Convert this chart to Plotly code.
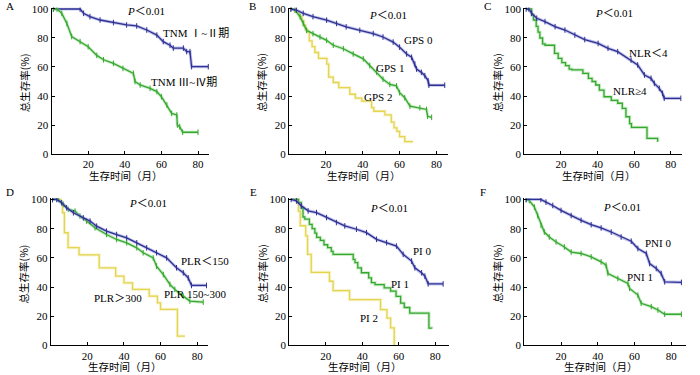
import plotly.graph_objects as go

# ---------------- data (months, overall survival %) ----------------
# A: TNM stage
A_I_II_t = [1, 15.6, 17.5, 21, 26.5, 33.8, 41, 46.5, 52, 57.5, 61, 64.7, 66.5, 72, 73.8, 75.6, 76.5, 85.6]
A_I_II_s = [100, 100, 97, 94.7, 92.4, 90.6, 89, 88.3, 85.5, 82, 77.5, 75, 73, 73, 70.6, 70.6, 60.2, 60.2]
A_III_IV_t = [1, 3, 5.6, 8.4, 11, 15.6, 20, 24.7, 28.4, 33.8, 39, 44.7, 45.6, 48.4, 53.8, 57.5, 60, 63, 65.6, 68.4, 68.7, 70, 71.6, 80]
A_III_IV_s = [100, 100, 97, 90, 81, 77.5, 74, 68, 65, 62.5, 59, 55.6, 50, 47.6, 45.3, 43, 39.5, 33.8, 28, 26.9, 20, 18.9, 15, 15]

# B: GPS
B_GPS0_t = [1, 4, 7.7, 13, 20.4, 25.8, 31, 38.4, 45.7, 51, 56.5, 60, 63.8, 66.5, 68.3, 69.2, 71.8, 73.7, 75.5, 75.9, 84.5]
B_GPS0_s = [100, 99.3, 97, 94.7, 92.3, 90, 87.7, 85.3, 83, 80.7, 77.2, 73.7, 69, 66.7, 62, 58.6, 56.3, 54, 50.5, 47.4, 47.4]
B_GPS1_t = [1, 3.2, 6, 7.7, 9.5, 13, 16.8, 20.4, 24, 29.5, 34.8, 40.3, 43.8, 47.5, 51, 54.7, 58.3, 60, 62.8, 65.6, 71, 74.6, 75.2, 77.4]
B_GPS1_s = [100, 99.3, 94.7, 90, 85.3, 83, 80.7, 78.4, 75, 72.6, 69, 65.6, 61, 56.5, 51.6, 48, 47, 42.3, 38.8, 33, 31.9, 30.7, 26, 25.3]
B_GPS2_t = [1, 3.5, 5.5, 7, 8, 9, 10, 11, 12.5, 14, 16, 20.5, 21.5, 24, 27, 33, 36, 39.5, 44.8, 46, 52, 55.5, 57, 58.5, 60, 62.8, 67.3]
B_GPS2_s = [100, 98, 95, 92, 88.8, 86, 84, 78, 74, 70, 66, 62, 53, 49.3, 45.8, 41.2, 38.5, 36.5, 32, 29.5, 27, 22, 18, 15.6, 12, 8.6, 8.6]

# C: NLR
C_NLR_lt4_t = [1, 2.5, 4, 6.8, 11.3, 16.8, 22.2, 27.6, 33, 40.3, 45.7, 51, 58.3, 61.9, 65.6, 69.2, 71, 73.7, 75.5, 76.4, 85.5]
C_NLR_lt4_s = [100, 100, 97, 93.6, 91.3, 87.8, 85.5, 82, 78.9, 76.3, 72.9, 70.6, 64.8, 61.4, 54.5, 52.2, 48.7, 45.3, 41.8, 38.4, 38.4]
C_NLR_ge4_t = [1, 4, 5, 6.5, 7.5, 8.5, 10, 11.3, 16.5, 18.5, 20.5, 22.5, 24.5, 26, 32, 35, 37, 39, 41, 43.5, 47.5, 51, 53.5, 55.5, 57.5, 58.5, 67, 72.8]
C_NLR_ge4_s = [100, 96, 92.4, 88, 84, 80, 76, 75, 69.4, 66, 63, 61, 58.5, 58, 55.6, 52.2, 50, 47.6, 44.1, 39.5, 37, 35, 31.5, 25.7, 21, 18.4, 10.8, 8.5]

# D: PLR
D_PLR_lt150_t = [1, 3.3, 6, 8.7, 12.4, 17.8, 21.5, 25.1, 30.5, 36, 41.5, 47, 52.4, 57.8, 63.3, 68.7, 72.4, 75.1, 76.9, 85.1]
D_PLR_lt150_s = [100, 100, 97.7, 94.3, 90.9, 87.4, 85.2, 81.7, 78.3, 76, 73.7, 70.3, 66.9, 63.5, 60, 53.2, 49.8, 46.3, 41.1, 41.1]
D_PLR_mid_t = [1, 4.2, 6.9, 9.6, 13.3, 16, 19.6, 24.2, 30.5, 36, 41.5, 47, 50.5, 56, 57.8, 61.5, 65.1, 67.8, 72.4, 76, 83.3]
D_PLR_mid_s = [100, 100, 96.6, 93.2, 92, 88.6, 85.2, 80.6, 76, 72.6, 70.3, 66.9, 63.5, 60, 54.3, 48.6, 41.8, 38.4, 33.8, 30.4, 29.7]
D_PLR_gt300_t = [1, 5.5, 6.5, 7.5, 9.5, 15.5, 26.5, 35.5, 40, 44.7, 53.8, 58.3, 60, 69.2, 73.3]
D_PLR_gt300_s = [100, 97.7, 90.9, 77.2, 67, 62, 53.2, 47.5, 42.9, 38.4, 33.8, 29.2, 24.7, 6.4, 6.4]

# E: PI
E_PI0_t = [1, 3.9, 6.6, 10.3, 14.9, 20.4, 25.8, 30.4, 36.8, 42.3, 47.8, 53.3, 58.7, 62.4, 67, 68.8, 72.5, 74.3, 76.1, 84.3]
E_PI0_s = [100, 99, 95.6, 92.2, 91, 87.6, 84.2, 81.9, 79.6, 77.3, 72.7, 70.4, 68.1, 62.4, 57.8, 53.2, 49.8, 47.5, 42.2, 42.2]
E_PI1_t = [1, 5, 6.5, 7.5, 8.5, 11, 12.5, 14, 15, 17, 19, 21, 23, 24, 35, 36, 37.5, 39.5, 43.5, 45, 47, 52, 55.5, 58.5, 61, 63, 66, 76.5, 78]
E_PI1_s = [100, 98, 94, 88, 86.5, 83, 80, 77, 74, 72, 69, 67, 64.5, 62.4, 59, 56.7, 53.2, 49.8, 46.3, 43, 41.7, 39.4, 37.2, 33.7, 29, 26, 22.2, 11.9, 11.5]
E_PI2_t = [1, 5, 6, 9, 10, 12, 22, 24, 33, 50, 53.5, 55.5, 57.5]
E_PI2_s = [100, 92, 82, 75, 62.4, 50, 44, 37.6, 31.4, 24.5, 18.8, 12, 0]

# F: PNI
F_PNI0_t = [1, 9, 11.8, 15.5, 20, 25.5, 30.9, 36.4, 41.8, 47.3, 52.7, 58.2, 61.8, 66.4, 68.2, 71.8, 74.5, 76.4, 85.5]
F_PNI0_s = [100, 100, 98.2, 95.9, 92.5, 89, 85.7, 82.7, 80.5, 77.7, 74.3, 71.4, 66.4, 63, 56.1, 52.7, 49.3, 43.6, 43.2]
F_PNI1_t = [1, 2.7, 5.5, 7.3, 9.1, 10.9, 13.6, 17.3, 21.8, 25.5, 30.9, 36.4, 41.8, 44.5, 45.5, 50.9, 56.4, 57.3, 61.8, 63.6, 69.1, 72.7, 76.4, 85.5]
F_PNI1_s = [100, 99.3, 94.8, 89, 82.3, 77.7, 74.3, 70.9, 67.5, 64, 63, 60.7, 57.3, 55, 49.3, 45.9, 42.5, 39.1, 34.5, 28.9, 26.6, 24.3, 21.4, 21.4]

y_ticks = [0, 20, 40, 60, 80, 100]
x_ticks = [20, 40, 60, 80]
panel_letters = ["A", "B", "C", "D", "E", "F"]
p_text = "<i>P</i>＜0.01"
y_title = "总生存率(%)"
x_title = "生存时间（月）"

# ---------------- styling ----------------
BLUE = "#2f3192"
BLUE_H = "rgba(120,125,210,0.45)"
GREEN = "#35a830"
GREEN_H = "rgba(140,210,130,0.45)"
YELLOW = "#e4d44e"
YELLOW_H = "rgba(240,230,150,0.45)"

SERIF = "Liberation Serif, Noto Sans CJK SC, serif"
CJK = "Noto Sans CJK SC, sans-serif"

fig = go.Figure()

# panel geometry (paper fractions)
x_domains = [[0.0736, 0.2986], [0.4129, 0.6393], [0.749, 0.974],
             [0.0724, 0.2974], [0.4133, 0.6414], [0.749, 0.980]]
x_max = [86, 86, 86, 86, 87.5, 88]
row1 = [0.5893, 0.9799]
row2 = [0.0787, 0.4720]
y_domains = [row1, row1, row1, row2, row2, row2]


def add_curve(i, t, s, color, halo, shape, ticks=True):
    ax = "" if i == 0 else str(i + 1)
    fig.add_trace(go.Scatter(
        x=t, y=s, mode="lines", line=dict(color=halo, width=3.2, shape=shape),
        xaxis="x" + ax, yaxis="y" + ax, showlegend=False, hoverinfo="skip"))
    fig.add_trace(go.Scatter(
        x=t, y=s, mode="lines+markers" if ticks else "lines",
        line=dict(color=color, width=1.3, shape=shape),
        marker=dict(symbol="line-ns", size=4, line=dict(color=color, width=1)),
        xaxis="x" + ax, yaxis="y" + ax, showlegend=False, hoverinfo="skip"))


add_curve(0, A_I_II_t, A_I_II_s, BLUE, BLUE_H, "linear")
add_curve(0, A_III_IV_t, A_III_IV_s, GREEN, GREEN_H, "linear")
add_curve(1, B_GPS2_t, B_GPS2_s, YELLOW, YELLOW_H, "hv", ticks=False)
add_curve(1, B_GPS1_t, B_GPS1_s, GREEN, GREEN_H, "linear")
add_curve(1, B_GPS0_t, B_GPS0_s, BLUE, BLUE_H, "linear")
add_curve(2, C_NLR_ge4_t, C_NLR_ge4_s, GREEN, GREEN_H, "hv", ticks=False)
add_curve(2, C_NLR_lt4_t, C_NLR_lt4_s, BLUE, BLUE_H, "linear")
add_curve(3, D_PLR_gt300_t, D_PLR_gt300_s, YELLOW, YELLOW_H, "hv", ticks=False)
add_curve(3, D_PLR_mid_t, D_PLR_mid_s, GREEN, GREEN_H, "linear")
add_curve(3, D_PLR_lt150_t, D_PLR_lt150_s, BLUE, BLUE_H, "linear")
add_curve(4, E_PI2_t, E_PI2_s, YELLOW, YELLOW_H, "hv", ticks=False)
add_curve(4, E_PI1_t, E_PI1_s, GREEN, GREEN_H, "hv", ticks=False)
add_curve(4, E_PI0_t, E_PI0_s, BLUE, BLUE_H, "linear")
add_curve(5, F_PNI1_t, F_PNI1_s, GREEN, GREEN_H, "linear")
add_curve(5, F_PNI0_t, F_PNI0_s, BLUE, BLUE_H, "linear")

layout = dict(width=700, height=375, margin=dict(l=0, r=0, t=0, b=0),
              paper_bgcolor="white", plot_bgcolor="white", showlegend=False)

axis_common = dict(showgrid=False, zeroline=False, showline=True, linecolor="black",
                   linewidth=1, ticks="inside", ticklen=3, tickcolor="black",
                   automargin=False,
                   tickfont=dict(family=SERIF, size=11, color="black"))

for i in range(6):
    suf = "" if i == 0 else str(i + 1)
    layout["xaxis" + suf] = dict(axis_common, domain=x_domains[i], range=[0, x_max[i]],
                                 tickvals=x_ticks, anchor="y" + suf)
    layout["yaxis" + suf] = dict(axis_common, domain=y_domains[i], range=[0, 101],
                                 tickvals=y_ticks, anchor="x" + suf)

fig.update_layout(**layout)

ann = []


def txt(x, y, text, size=11, family=SERIF, angle=0):
    ann.append(dict(x=x / 700, y=1 - y / 375, xref="paper", yref="paper", text=text,
                    showarrow=False, textangle=angle, xanchor="center", yanchor="middle",
                    font=dict(family=family, size=size, color="black")))


# panel letters
letter_pos = [(10, 6), (252, 6), (487, 6), (10, 192), (253, 192), (483, 192)]
for (lx, ly), lt in zip(letter_pos, panel_letters):
    txt(lx, ly, lt, size=11)

# P values
for px, py in [(146, 11), (388, 15), (614, 13), (148, 203), (389, 208), (622, 207)]:
    txt(px, py, p_text, size=11)

# axis titles
for i in range(6):
    d = x_domains[i]
    yd = y_domains[i]
    left = d[0] * 700
    cx = (d[0] + d[1]) / 2 * 700
    bottom = (1 - yd[0]) * 375
    top = (1 - yd[1]) * 375
    txt(left - 27, (top + bottom) / 2 + 2, y_title, size=10.5, family=CJK, angle=-90)
    txt(cx - 4, bottom + 21.5, x_title, size=10.5, family=CJK)

# curve labels
txt(196, 33, "TNM Ⅰ~Ⅱ期", size=11)
txt(184, 82, "TNM Ⅲ~Ⅳ期", size=11)
txt(418, 40, "GPS 0", size=11)
txt(390, 68, "GPS 1", size=11)
txt(378, 97, "GPS 2", size=11)
txt(648, 53, "NLR＜4", size=11)
txt(630, 91, "NLR≥4", size=11)
txt(205, 261, "PLR＜150", size=11)
txt(195, 294, "PLR 150~300", size=11)
txt(118, 298, "PLR＞300", size=11)
txt(422, 251, "PI 0", size=11)
txt(400, 284, "PI 1", size=11)
txt(369, 318, "PI 2", size=11)
txt(658, 243, "PNI 0", size=11)
txt(640, 277, "PNI 1", size=11)

fig.update_layout(annotations=ann)
fig.write_html("out.html", config={"displayModeBar": False},
               post_script="document.body.style.margin='0px';")
